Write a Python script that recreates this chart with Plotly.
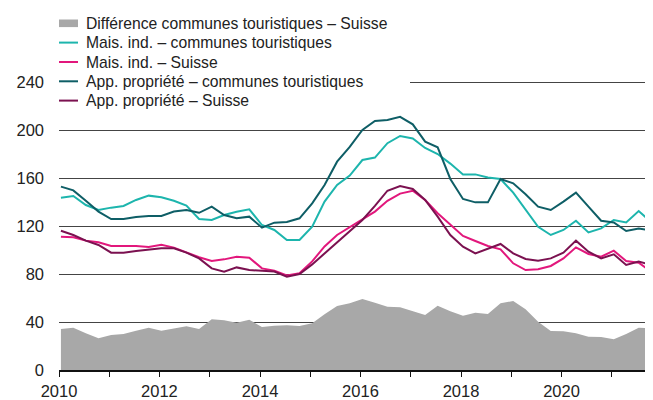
import plotly.graph_objects as go

# Quarterly observations 2010Q1 .. 2021Q4 (plotted mid first month of each quarter)
quarters = [f"{y}-{m:02d}-15" for y in range(2010, 2022) for m in (1, 4, 7, 10)]

diff_area = [34.2, 35.3, 30.6, 26.4, 29.2, 30.0, 32.8, 35.3, 32.8, 34.4, 36.4, 34.2,
             42.2, 41.4, 39.4, 41.9, 35.8, 36.9, 37.2, 36.7, 38.9, 46.4, 53.3, 55.6,
             59.2, 56.1, 52.8, 52.2, 48.9, 45.8, 53.6, 48.9, 45.3, 47.8, 46.7, 55.6,
             57.5, 50.6, 40.3, 32.5, 32.2, 30.6, 27.8, 27.5, 25.6, 30.0, 35.3, 34.7]

mais_tour = [143.6, 145.0, 137.5, 133.3, 135.3, 136.7, 141.7, 145.3, 143.9, 141.0, 137.0, 125.8,
             125.0, 129.2, 131.9, 133.9, 120.8, 116.7, 108.3, 108.3, 119.4, 140.3, 154.2, 162.0,
             175.0, 177.0, 189.0, 195.0, 193.0, 185.0, 180.0, 172.0, 163.0, 163.0, 160.5, 159.2,
             147.8, 133.3, 119.4, 112.5, 116.7, 124.4, 114.7, 118.0, 125.0, 123.0, 132.5, 123.0]

mais_suisse = [111.0, 110.6, 107.8, 106.4, 103.3, 103.3, 103.3, 102.5, 104.4, 102.0, 97.8, 94.0,
               90.8, 92.2, 94.4, 93.6, 84.7, 82.8, 78.8, 80.6, 90.5, 103.0, 112.5, 119.0,
               125.0, 132.0, 141.0, 147.0, 149.4, 141.7, 130.6, 120.8, 111.7, 107.5, 103.3, 100.6,
               88.9, 83.3, 83.9, 86.7, 93.0, 102.2, 96.7, 94.4, 99.4, 90.8, 89.4, 81.9]

app_tour = [152.8, 149.7, 141.0, 132.0, 125.8, 125.8, 127.5, 128.3, 128.3, 132.0, 133.3, 131.0,
            136.1, 129.2, 126.4, 127.8, 118.6, 122.8, 123.3, 126.4, 138.9, 154.2, 173.6, 186.0,
            200.0, 207.5, 208.3, 211.0, 204.7, 190.3, 185.6, 159.2, 142.5, 139.7, 139.7, 159.2,
            155.6, 146.4, 136.1, 133.3, 140.3, 147.8, 136.1, 124.4, 123.0, 115.8, 118.0, 116.0]

app_suisse = [116.0, 112.5, 107.8, 104.2, 97.8, 97.8, 99.2, 100.0, 101.4, 101.4, 97.8, 93.0,
              84.7, 82.0, 85.5, 83.3, 82.5, 82.0, 77.8, 80.0, 88.0, 97.0, 106.0, 115.0,
              125.0, 136.7, 149.4, 153.3, 150.8, 141.7, 127.8, 112.5, 102.8, 97.2, 101.4, 105.0,
              97.2, 92.5, 91.1, 93.0, 97.8, 107.8, 98.6, 93.0, 96.4, 87.5, 90.3, 87.5]

names = ["Différence communes touristiques – Suisse",
         "Mais. ind. – communes touristiques",
         "Mais. ind. – Suisse",
         "App. propriété – communes touristiques",
         "App. propriété – Suisse"]

year_ticks = [f"{y}-01-01" for y in range(2010, 2022)]
year_labels = [str(y) if y % 2 == 0 else "" for y in range(2010, 2022)]
y_ticks = [0, 40, 80, 120, 160, 200, 240]

GREY = "#a8a8a8"
TURQ = "#1db5ad"
PINK = "#e2177c"
DTEAL = "#0e5e66"
MAROON = "#7b1150"
FONT = "Liberation Sans, Arial, sans-serif"

fig = go.Figure()
fig.add_trace(go.Scatter(x=quarters, y=diff_area, mode="lines", fill="tozeroy",
                         fillcolor=GREY, line=dict(width=0, color=GREY),
                         name=names[0], showlegend=False))
series = [(mais_tour, TURQ, names[1]), (mais_suisse, PINK, names[2]),
          (app_tour, DTEAL, names[3]), (app_suisse, MAROON, names[4])]
for vals, col, nm in series:
    fig.add_trace(go.Scatter(x=quarters, y=vals, mode="lines",
                             line=dict(color=col, width=2), name=nm, showlegend=False))

# the page body has an 8px margin; figure is sized so the page is 653x400
OFF = 8
W, H = 653 - OFF, 400 - OFF
# plot-area geometry in page pixels
L, R, T, B = 59, 653, 10, 370
def px(x):
    return (x - L) / (R - L)
def py(y):
    return (B - y) / (B - T)

# white background behind the legend (hides the 240 gridline there)
shapes = [dict(type="rect", xref="paper", yref="paper", x0=px(57), x1=px(410),
               y0=py(110), y1=py(10), fillcolor="white", line=dict(width=0),
               layer="above")]
annotations = []
row_y = [23.3, 42.6, 62.0, 81.3, 100.6]
colors = [GREY, TURQ, PINK, DTEAL, MAROON]
for k, (nm, col) in enumerate(zip(names, colors)):
    yc = row_y[k]
    if k == 0:
        shapes.append(dict(type="rect", xref="paper", yref="paper", x0=px(59), x1=px(78),
                           y0=py(yc + 3.8), y1=py(yc - 3.8), fillcolor=col,
                           line=dict(width=0), layer="above"))
    else:
        shapes.append(dict(type="line", xref="paper", yref="paper", x0=px(59), x1=px(78),
                           y0=py(yc), y1=py(yc), line=dict(color=col, width=2),
                           layer="above"))
    annotations.append(dict(text=nm, xref="paper", yref="paper", x=px(84), y=py(yc),
                            xanchor="left", yanchor="middle", showarrow=False,
                            font=dict(family=FONT, size=15.7, color="#222")))

fig.update_layout(
    width=W, height=H,
    margin=dict(l=L - OFF, r=0, t=T - OFF, b=400 - B),
    plot_bgcolor="white", paper_bgcolor="white",
    showlegend=False,
    shapes=shapes, annotations=annotations,
    font=dict(family=FONT, size=16, color="#222"),
)
fig.update_xaxes(type="date", range=["2010-01-01", "2021-10-27"],
                 tickvals=year_ticks, ticktext=year_labels,
                 ticks="outside", ticklen=5, tickcolor="#111", tickwidth=1,
                 showline=True, linecolor="#111", linewidth=1.5,
                 showgrid=False, zeroline=False,
                 tickfont=dict(family=FONT, size=16.5, color="#222"))
fig.update_yaxes(range=[0, 300], tickvals=y_ticks,
                 showgrid=True, gridcolor="#444", gridwidth=1.2,
                 zeroline=False, showline=False, ticks="",
                 ticklabelstandoff=14,
                 tickfont=dict(family=FONT, size=16.5, color="#222"))

fig.write_html("out.html")
